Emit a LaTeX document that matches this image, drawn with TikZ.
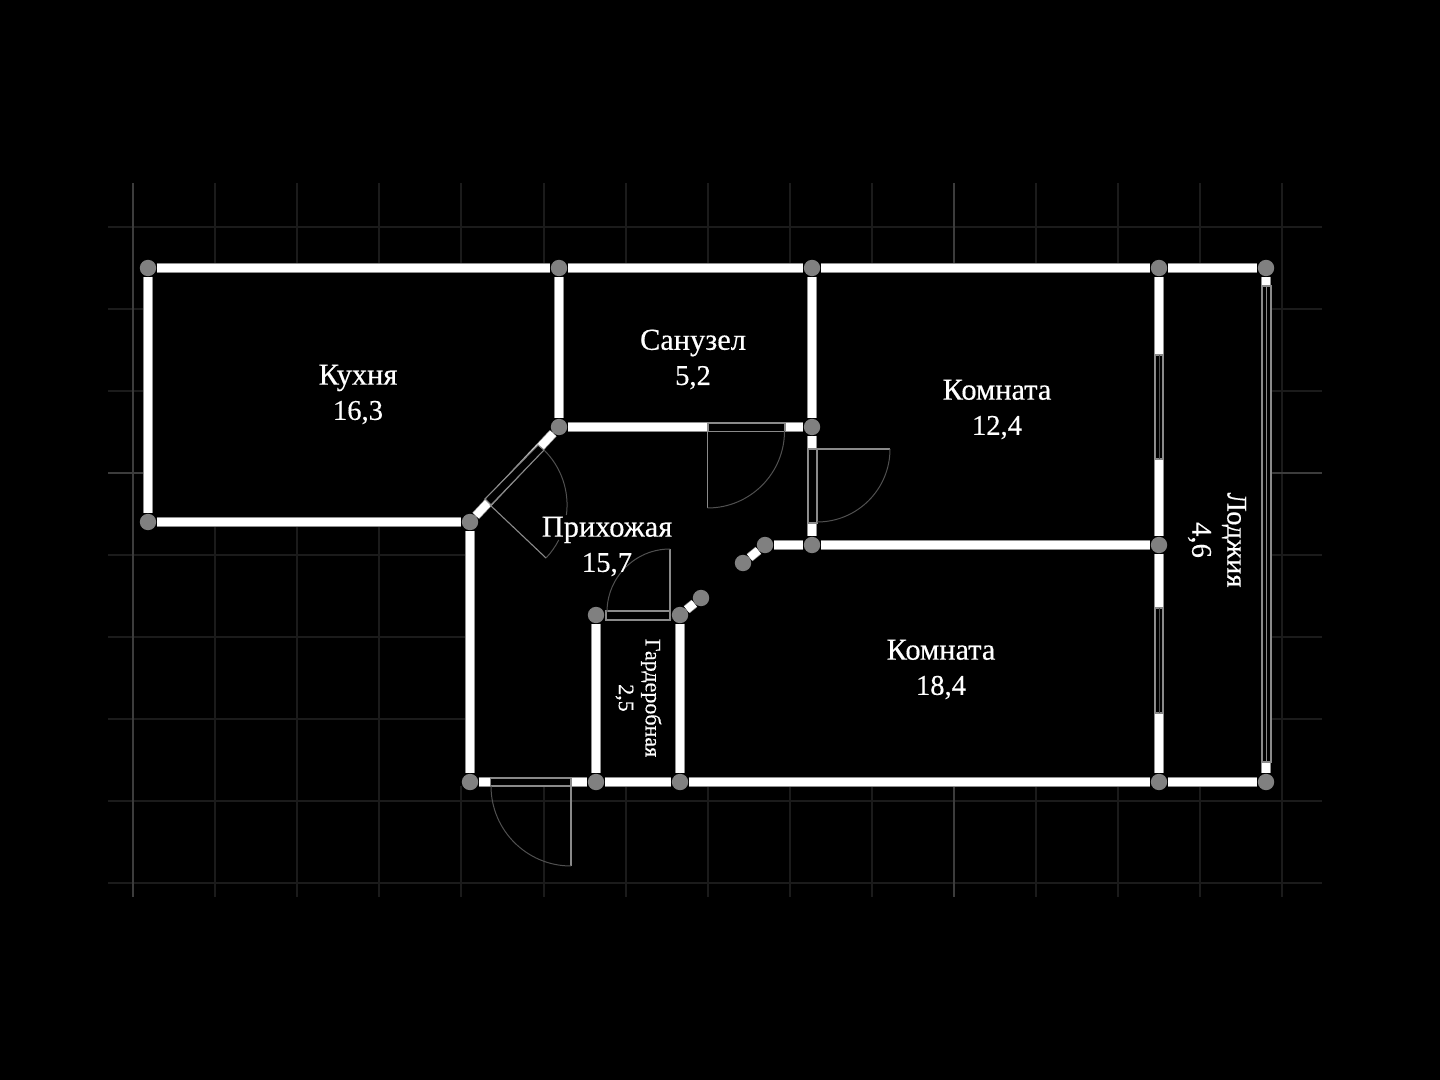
\documentclass[tikz,border=0pt]{standalone}
\usepackage{fontspec}
\setmainfont{Liberation Serif}[FakeBold=0.4]
\definecolor{minorgrid}{HTML}{1B1B1B}
\definecolor{majorgrid}{HTML}{3C3C3C}
\definecolor{dotgray}{HTML}{808080}
\definecolor{edgegray}{HTML}{909090}
\definecolor{thingray}{HTML}{8A8A8A}
\definecolor{arcgray}{HTML}{505050}
\newcommand\areanum[1]{{\fontsize{14.3pt}{17.6pt}\selectfont #1}}
\tikzset{
  minorline/.style={draw=minorgrid,line width=0.75pt},
  majorline/.style={draw=majorgrid,line width=1.25pt},
  junction/.style={circle,fill=dotgray,draw=none,minimum size=8.2pt,inner sep=0pt},
  wall/.style={draw=edgegray,line width=0.35pt,double=white,double distance=4pt},
  opening/.style={fill=black,draw=thingray,line width=0.55pt},
  leaf/.style={draw=thingray,line width=0.55pt},
  swing/.style={draw=arcgray,line width=0.5pt},
  room/.style={text=white,align=center,font=\fontsize{15.2pt}{17.6pt}\selectfont,inner sep=0pt},
  narrowroom/.style={text=white,align=center,font=\fontsize{14.3pt}{17.6pt}\selectfont,inner sep=0pt},
  smallroom/.style={text=white,align=center,font=\fontsize{11pt}{13.4pt}\selectfont,inner sep=0pt}
}
\begin{document}
\begin{tikzpicture}[x=0.5pt,y=-0.5pt]
\useasboundingbox[fill=black] (0,0) rectangle (1440,1080);
% grid
\foreach \gx in {215,297,379,544,626,708,790,872,1036,1118,1200,1282}
  \draw[minorline] (\gx,183) -- (\gx,897);
\draw[minorline] (461,183) -- (461,263);
\draw[minorline] (461,786) -- (461,897);
\foreach \gy in {227,309,391,555,637,719,801,883}
  \draw[minorline] (108,\gy) -- (1322,\gy);
\foreach \gx in {133,954}
  \draw[majorline] (\gx,183) -- (\gx,897);
\draw[majorline] (108,473) -- (1322,473);
% plan interior hides the grid
\fill[black] (143,263) -- (1272,263) -- (1272,786) -- (465,786) -- (465,527) -- (143,527) -- cycle;
% junctions
\node[junction] (a) at (148,268) {};
\node[junction] (b) at (559,268) {};
\node[junction] (c) at (812,268) {};
\node[junction] (d) at (1159,268) {};
\node[junction] (e) at (1266,268) {};
\node[junction] (f) at (148,522) {};
\node[junction] (g) at (470,522) {};
\node[junction] (h) at (559,427) {};
\node[junction] (i) at (812,427) {};
\node[junction] (j) at (812,545) {};
\node[junction] (k) at (765,545) {};
\node[junction] (l) at (743,563) {};
\node[junction] (m) at (1159,545) {};
\node[junction] (n) at (701,598) {};
\node[junction] (o) at (680,615) {};
\node[junction] (p) at (596,615) {};
\node[junction] (q) at (470,782) {};
\node[junction] (r) at (596,782) {};
\node[junction] (s) at (680,782) {};
\node[junction] (t) at (1159,782) {};
\node[junction] (u) at (1266,782) {};
% walls
\draw[wall] (a) -- (b);
\draw[wall] (b) -- (c);
\draw[wall] (c) -- (d);
\draw[wall] (d) -- (e);
\draw[wall] (a) -- (f);
\draw[wall] (f) -- (g);
\draw[wall] (g) -- (h);
\draw[wall] (b) -- (h);
\draw[wall] (h) -- (i);
\draw[wall] (c) -- (i);
\draw[wall] (i) -- (j);
\draw[wall] (j) -- (k);
\draw[wall] (k) -- (l);
\draw[wall] (j) -- (m);
\draw[wall] (d) -- (m);
\draw[wall] (m) -- (t);
\draw[wall] (e) -- (u);
\draw[wall] (g) -- (q);
\draw[wall] (q) -- (r);
\draw[wall] (r) -- (s);
\draw[wall] (s) -- (t);
\draw[wall] (t) -- (u);
\draw[wall] (n) -- (o);
\draw[wall] (o) -- (p);
\draw[wall] (p) -- (r);
\draw[wall] (o) -- (s);
% windows
\draw[opening] (1155.5,355) rectangle (1163,459);
\draw[arcgray,line width=0.5pt] (1159.2,355) -- (1159.2,459);
\draw[opening] (1155.5,608) rectangle (1163,713);
\draw[arcgray,line width=0.5pt] (1159.2,608) -- (1159.2,713);
\draw[opening] (1262,286) rectangle (1271,762);
\draw[thingray,line width=0.55pt] (1266.5,286) -- (1266.5,762);
% kitchen door
\draw[opening] (485,499) -- (538,445) -- (544,450) -- (491,505) -- cycle;
\draw[leaf] (490,505) -- (546,558);
\draw[swing] (546,558) arc[start angle=43.5,end angle=27,radius=77];
\draw[swing] (566.4,515) arc[start angle=7.5,end angle=-45.5,radius=77];
% bathroom door
\draw[opening] (708,423) rectangle (785,431.5);
\draw[leaf] (707.5,431.5) -- (707.5,508);
\draw[swing] (707.5,508) arc[start angle=90,end angle=0,radius=77];
% room door
\draw[opening] (808.5,449) rectangle (817,523);
\draw[leaf] (817,449) -- (890,449);
\draw[swing] (890,449) arc[start angle=0,end angle=90,radius=73];
% entry door
\draw[opening] (490.5,778) rectangle (571,786);
\draw[leaf] (571,786) -- (571,866);
\draw[swing] (571,866) arc[start angle=90,end angle=180,radius=80];
% closet door
\draw[opening] (606,611) rectangle (670,620);
\draw[leaf] (670,611) -- (670,549);
\draw[swing] (670,549) arc[start angle=-90,end angle=-180,radius=63];
% labels
\node[room] (kitchen) at (358,394.5) {Кухня\\\areanum{16,3}};
\node[room] (bath) at (693,359.5) {Санузел\\\areanum{5,2}};
\node[room] (room1) at (997,409.5) {Комната\\\areanum{12,4}};
\node[room] (room2) at (941,669.5) {Комната\\\areanum{18,4}};
\node[room] (hall) at (607,546.5) {Прихожая\\\areanum{15,7}};
\node[smallroom,rotate=-90] (wardrobe) at (638.5,698) {Гардеробная\\2,5};
\node[narrowroom,rotate=-90] (loggia) at (1217,540) {Лоджия\\4,6};
\end{tikzpicture}
\end{document}
